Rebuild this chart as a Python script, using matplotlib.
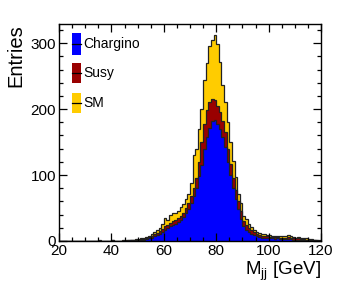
import numpy as np
import matplotlib
matplotlib.use('Agg')
import matplotlib.pyplot as plt
from matplotlib.patches import Rectangle
from matplotlib.ticker import MultipleLocator

plt.rcParams['font.family'] = ['Liberation Sans', 'DejaVu Sans']

# bins of 1 GeV from 20 to 120
bin_edges = np.arange(20, 121, 1)

# stacked heights (bins 20..119)
chargino = ([0] * 20 +
            [0, 0, 0, 0, 0, 0, 0, 1, 1, 1,
             1, 2, 2, 3, 4, 5, 7, 9, 11, 14,
             17, 20, 22, 24, 26, 29, 32, 36, 42, 49,
             58, 68, 80, 98, 115, 140, 158, 172, 182, 183,
             178, 170, 158, 143, 120, 100, 80, 63, 48, 33,
             22, 17, 14, 11, 9, 7, 6, 5, 5, 4,
             4, 4, 3, 4, 3, 3, 3, 3, 3, 2,
             2, 2, 2, 1, 1, 1, 1, 1, 0, 0])

chargino_susy = ([0] * 20 +
                 [1, 0, 0, 0, 0, 0, 1, 1, 1, 1,
                  2, 3, 3, 4, 6, 7, 10, 12, 15, 18,
                  22, 25, 28, 30, 32, 35, 38, 43, 50, 58,
                  68, 80, 95, 120, 150, 178, 198, 210, 216, 214,
                  205, 195, 182, 165, 140, 117, 95, 78, 60, 45,
                  30, 24, 19, 16, 13, 11, 9, 8, 7, 7,
                  6, 6, 6, 6, 5, 5, 5, 6, 5, 4,
                  4, 4, 3, 3, 2, 2, 2, 1, 1, 0])

all_stack = ([0] * 15 + [1, 0, 0, 0, 0] +
             [2, 0, 0, 0, 1, 1, 2, 2, 2, 3,
              3, 4, 5, 6, 8, 10, 13, 16, 20, 26,
              35, 32, 40, 42, 43, 46, 51, 56, 63, 72,
              88, 130, 140, 170, 200, 244, 270, 295, 305, 313,
              298, 271, 236, 210, 180, 150, 122, 97, 72, 58,
              38, 33, 26, 21, 17, 14, 12, 11, 10, 9,
              9, 8, 8, 8, 7, 7, 8, 9, 8, 6,
              5, 6, 5, 4, 4, 3, 3, 2, 1, 1])

labels = ['Chargino', 'Susy', 'SM']
colors = ['#0000ff', '#990000', '#ffcc00']

fig = plt.figure(figsize=(3.49, 2.95), dpi=100)
ax = fig.add_axes([59 / 349, 1 - 241 / 295, 262 / 349, 217 / 295])

# draw from the top of the stack downwards
for h, c in [(all_stack, colors[2]), (chargino_susy, colors[1]), (chargino, colors[0])]:
    ax.stairs(h, bin_edges, fill=True, facecolor=c, edgecolor='none')
    ax.stairs(h, bin_edges, color='#222222', linewidth=0.9)

ax.set_xlim(20, 120)
ax.set_ylim(0, 329)
ax.xaxis.set_major_locator(MultipleLocator(20))
ax.xaxis.set_minor_locator(MultipleLocator(5))
ax.yaxis.set_major_locator(MultipleLocator(100))
ax.yaxis.set_minor_locator(MultipleLocator(20))
ax.tick_params(which='both', direction='in', top=True, right=True, labelsize=11, width=0.9)
ax.tick_params(which='major', length=5.5, pad=2)
ax.tick_params(which='minor', length=2.8)
for s in ax.spines.values():
    s.set_linewidth(1.0)

ax.set_ylabel('Entries', fontsize=14.5, loc='top', labelpad=4)
ax.set_xlabel(r'M$_{\mathregular{jj}}$ [GeV]', fontsize=13.5, loc='right', labelpad=1)

# ROOT-like legend: filled box with a line through it
box_y = [(0.857, 0.958), (0.728, 0.820), (0.590, 0.682)]
for (y0, y1), lab, c in zip(box_y, labels, colors):
    ax.add_patch(Rectangle((0.050, y0), 0.034, y1 - y0, transform=ax.transAxes,
                           facecolor=c, edgecolor='none', zorder=5))
    ym = 0.5 * (y0 + y1)
    ax.plot([0.050, 0.084], [ym, ym], transform=ax.transAxes, color='black',
            linewidth=0.9, zorder=6)
    ax.text(0.092, ym, lab, transform=ax.transAxes, fontsize=10, va='center',
            ha='left', zorder=6)

fig.savefig('out.png', dpi=100)
